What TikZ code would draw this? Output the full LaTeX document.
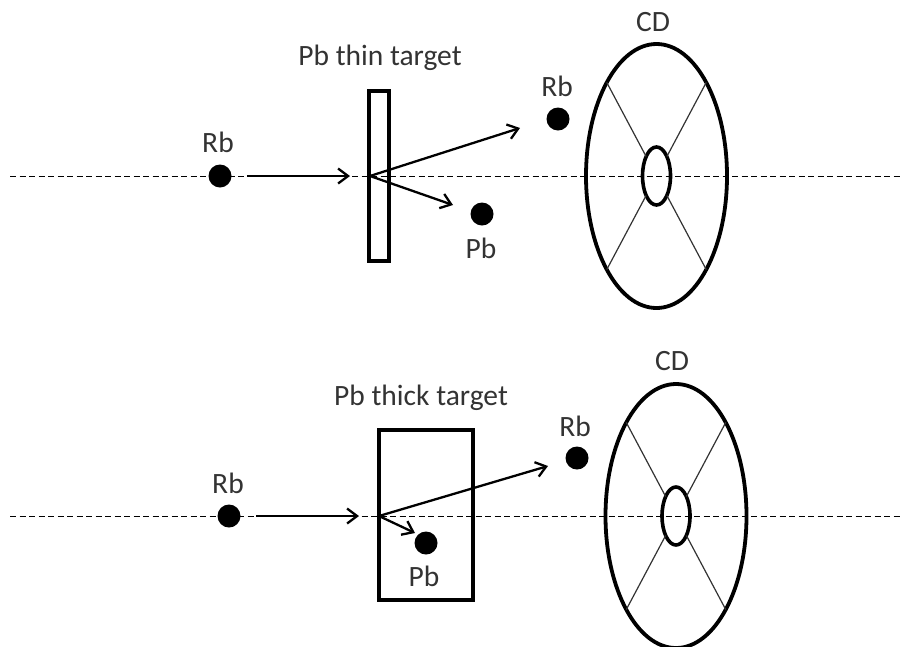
\documentclass[tikz,border=0pt]{standalone}
\usepackage{fontspec}
\setmainfont{Carlito}
\usetikzlibrary{arrows.meta,shapes.geometric}
\begin{document}
\begin{tikzpicture}
      [x=1pt,y=-1pt,
       >={Straight Barb[length=10pt,width=15pt]},
       dot/.style={circle,fill=black,inner sep=0pt,minimum size=23pt},
       lbl/.style={inner sep=0pt,text=black!80,font=\fontsize{29.5}{34}\selectfont},
       target/.style={draw,line width=3.4pt,inner sep=0pt,outer sep=0pt},
       disk/.style={ellipse,draw,line width=3.8pt,inner sep=0pt,outer sep=0pt,minimum width=141pt,minimum height=264pt},
       hole/.style={ellipse,draw,line width=3.6pt,inner sep=0pt,outer sep=0pt,minimum width=28pt,minimum height=58pt},
       spoke/.style={line width=1.2pt,black!80},
       beam/.style={dashed,line width=1pt,dash pattern=on 6pt off 3.5pt},
       track/.style={->,line width=2.3pt}]
      \clip (0,0) rectangle (901,646);
      % thin target
      \coordinate (beamAl) at (10,176);
      \coordinate (beamAr) at (900,176);
      \coordinate (hitA) at (370,176);
      \coordinate (endRbA) at (520,128);
      \coordinate (endPbA) at (453,205);
      \node[target,minimum width=20pt,minimum height=170pt] (targetA) at (379,176) {};
      \node[disk] (cdA) at (656.5,176) {};
      \node[hole] (holeA) at (656.5,176) {};
      \foreach \ang in {62,118,-62,-118}{
        \draw[spoke] (cdA.\ang) -- (holeA.\ang);
      }
      \draw[beam] (beamAl) -- (beamAr);
      \node[dot] (rbinA) at (220,176) {};
      \node[dot] (rboutA) at (558,119) {};
      \node[dot] (pbA) at (482,214) {};
      \draw[track,shorten <=27pt,shorten >=20pt] (rbinA.center) -- (hitA);
      \draw[track] (hitA) -- (endRbA);
      \draw[track] (hitA) -- (endPbA);
      \node[lbl] (lblrbinA) at (218,142) {Rb};
      \node[lbl] (lblrboutA) at (557,86) {Rb};
      \node[lbl] (lblpbA) at (481,248) {Pb};
      \node[lbl] (lbltargetA) at (380,58) {Pb thin target};
      \node[lbl] (lblcdA) at (653,22) {CD};
      % thick target
      \coordinate (beamBl) at (10,516);
      \coordinate (beamBr) at (900,516);
      \coordinate (hitB) at (379,516);
      \coordinate (endRbB) at (548,466);
      \coordinate (endPbB) at (415,533);
      \node[target,minimum width=94pt,minimum height=170pt] (targetB) at (426,515) {};
      \node[disk] (cdB) at (676,516) {};
      \node[hole] (holeB) at (676,516) {};
      \foreach \ang in {62,118,-62,-118}{
        \draw[spoke] (cdB.\ang) -- (holeB.\ang);
      }
      \draw[beam] (beamBl) -- (beamBr);
      \node[dot] (rbinB) at (229,516) {};
      \node[dot] (rboutB) at (577,458) {};
      \node[dot] (pbB) at (426,543) {};
      \draw[track,shorten <=27pt,shorten >=20pt] (rbinB.center) -- (hitB);
      \draw[track] (hitB) -- (endRbB);
      \draw[track] (hitB) -- (endPbB);
      \node[lbl] (lblrbinB) at (228,483) {Rb};
      \node[lbl] (lblrboutB) at (575,426) {Rb};
      \node[lbl] (lblpbB) at (424,576) {Pb};
      \node[lbl] (lbltargetB) at (421,398) {Pb thick target};
      \node[lbl] (lblcdB) at (672,361) {CD};
    \end{tikzpicture}
\end{document}
